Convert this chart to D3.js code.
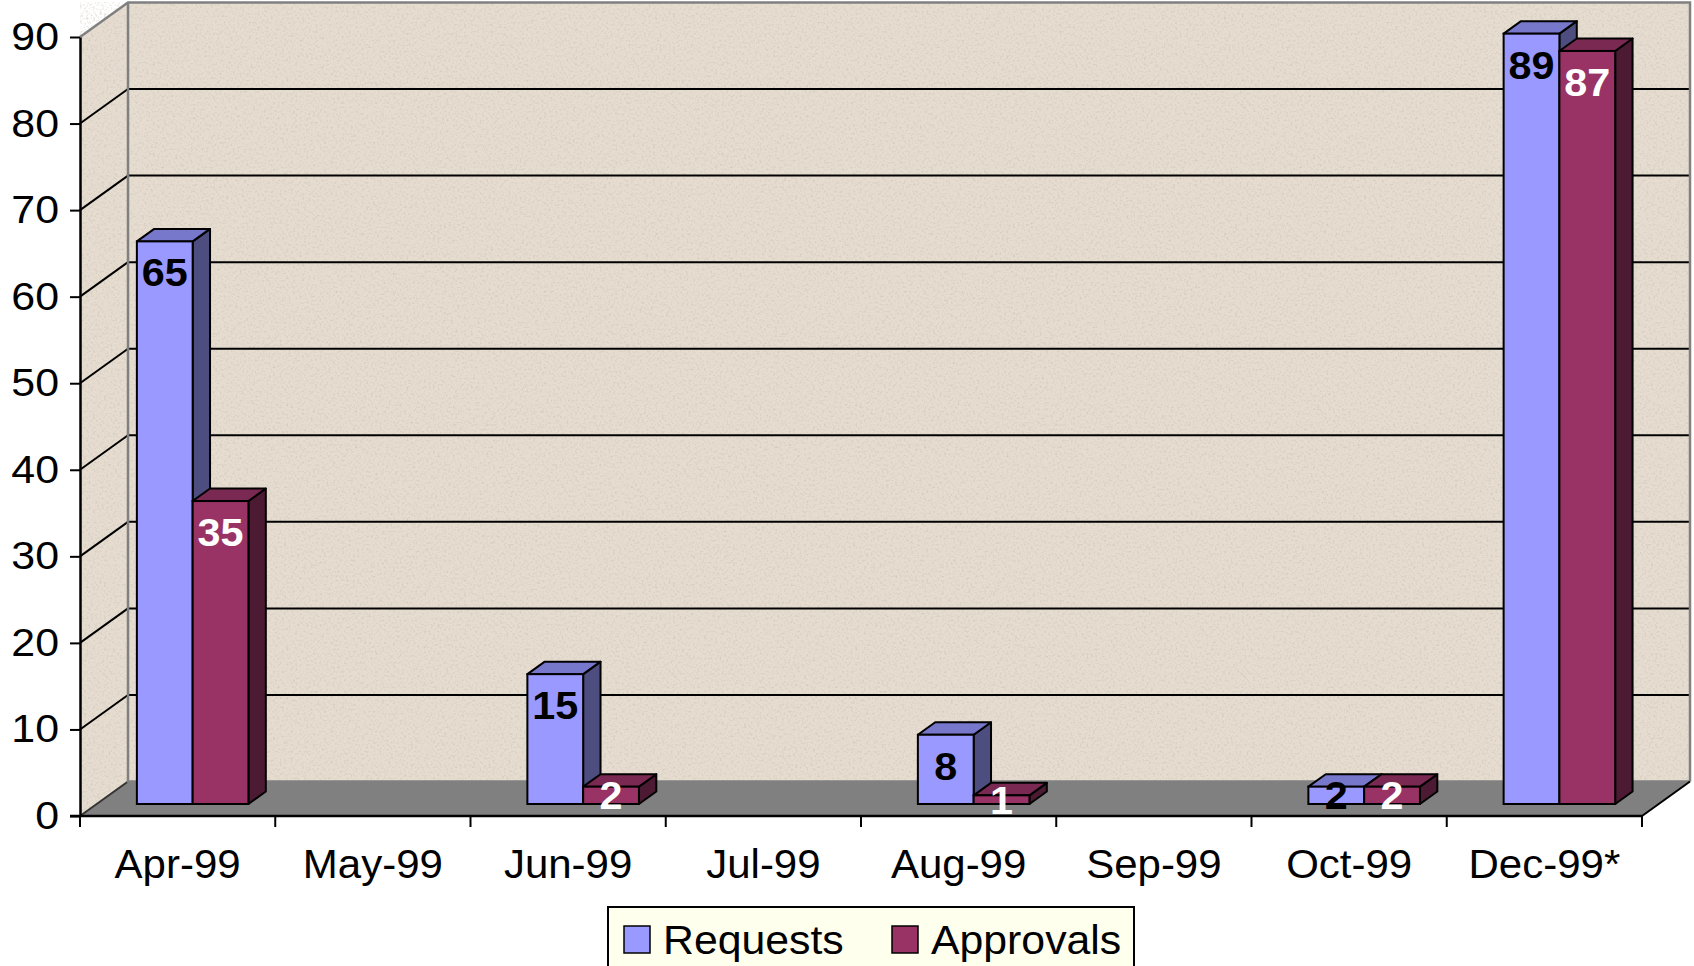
<!DOCTYPE html>
<html>
<head>
<meta charset="utf-8">
<script src="https://cdn.jsdelivr.net/npm/d3@7"></script>
<style>
  body { margin: 0; background: #fff; }
  svg { display: block; }
</style>
</head>
<body>
<div id="chart_div"></div>
<script>
var months = ['Apr-99', 'May-99', 'Jun-99', 'Jul-99', 'Aug-99', 'Sep-99', 'Oct-99', 'Dec-99*'];
var series = ['Requests', 'Approvals'];
var requests = [65, null, 15, null, 8, null, 2, 89];
var approvals = [35, null, 2, null, 1, null, 2, 87];
var y_ticks = [0, 10, 20, 30, 40, 50, 60, 70, 80, 90];

var width = 1694, height = 966;
var plot = { left: 80, right: 1642, top: 37, bottom: 816 };
var depth = { x: 48, y: -34.5 };     // offset from front plane to back wall
var bar_front = 0.348, bar_back = 0.71; // bar position inside the depth
var font = '"Liberation Sans", Arial, sans-serif';

var colors = {
    Requests:  { front: '#9999ff', top: '#7777cc', side: '#4d4d80', label: '#000' },
    Approvals: { front: '#993366', top: '#7a2952', side: '#4d1a33', label: '#fff' }
};

var svg = d3.select('#chart_div')
    .append('svg')
    .attr('width', width)
    .attr('height', height);

// speckled wall texture
var defs = svg.append('defs');
var filter = defs.append('filter').attr('id', 'speck')
    .attr('x', 0).attr('y', 0).attr('width', 1).attr('height', 1);
filter.append('feTurbulence')
    .attr('type', 'fractalNoise')
    .attr('baseFrequency', 0.45)
    .attr('numOctaves', 3)
    .attr('seed', 7);
filter.append('feColorMatrix')
    .attr('type', 'matrix')
    .attr('values', '0 0 0 0 0.55  0 0 0 0 0.5  0 0 0 0 0.44  2.2 0 0 0 -1.05');

var x = d3.scaleBand().domain(months).range([plot.left, plot.right]).padding(0);
var y = d3.scaleLinear().domain([0, 90]).range([plot.bottom, plot.top]);
var bw = x.bandwidth() / 3.5;   // gap width 150%

function pts(a) { return a.map(function(p) { return p.join(','); }).join(' '); }
// text in the original is a bit wider than Liberation Sans
function stretched(sel, sx) {
    sel.attr('transform', function() {
        var t = d3.select(this);
        var tx = +t.attr('x') || 0, ty = +t.attr('y') || 0;
        t.attr('x', 0).attr('y', 0);
        return 'translate(' + tx + ',' + ty + ') scale(' + sx + ',1)';
    });
}

var wall_left = plot.left + depth.x, wall_right = plot.right + depth.x;
var wall_top = y(90) + depth.y, wall_bottom = y(0) + depth.y;

// back wall
svg.append('rect')
    .attr('x', wall_left).attr('y', wall_top)
    .attr('width', wall_right - wall_left).attr('height', wall_bottom - wall_top)
    .attr('fill', '#e6ddd0');
svg.append('rect')
    .attr('x', wall_left).attr('y', wall_top)
    .attr('width', wall_right - wall_left).attr('height', wall_bottom - wall_top)
    .attr('filter', 'url(#speck)')
    .attr('opacity', 0.6);

// side wall
var side_wall = [[plot.left, y(0)], [plot.left, y(90)], [wall_left, wall_top], [wall_left, wall_bottom]];
svg.append('polygon').attr('points', pts(side_wall)).attr('fill', '#e6ddd0');
svg.append('polygon').attr('points', pts(side_wall))
    .attr('filter', 'url(#speck)').attr('opacity', 0.6);

// floor
svg.append('polygon')
    .attr('points', pts([[plot.left, y(0)], [plot.right, y(0)], [wall_right, wall_bottom], [wall_left, wall_bottom]]))
    .attr('fill', '#808080');

// gridlines on back wall and side wall
var grid = svg.append('g');
y_ticks.filter(function(t) { return t > 0 && t < 90; }).forEach(function(t) {
    grid.append('line')
        .attr('x1', wall_left).attr('x2', wall_right)
        .attr('y1', y(t) + depth.y).attr('y2', y(t) + depth.y)
        .attr('stroke', '#000').attr('stroke-width', 2);
});
y_ticks.filter(function(t) { return t < 90; }).forEach(function(t) {
    grid.append('line')
        .attr('x1', plot.left).attr('y1', y(t))
        .attr('x2', wall_left).attr('y2', y(t) + depth.y)
        .attr('stroke', t === 0 ? '#333' : '#000').attr('stroke-width', 2);
});

// wall borders (gray)
svg.append('path')
    .attr('d', 'M' + plot.left + ',' + y(90) + 'L' + wall_left + ',' + wall_top +
        'L' + wall_right + ',' + wall_top + 'L' + wall_right + ',' + wall_bottom +
        'M' + wall_left + ',' + wall_top + 'L' + wall_left + ',' + wall_bottom +
        'L' + wall_right + ',' + wall_bottom)
    .attr('fill', 'none').attr('stroke', '#808080').attr('stroke-width', 2.5);

// floor right edge
svg.append('line')
    .attr('x1', plot.right).attr('y1', y(0))
    .attr('x2', wall_right).attr('y2', wall_bottom)
    .attr('stroke', '#000').attr('stroke-width', 2);

// bars
var bar_data = [];
months.forEach(function(m, i) {
    [requests[i], approvals[i]].forEach(function(v, j) {
        if (v === null) return;
        bar_data.push({ month: m, series: series[j], value: v, j: j });
    });
});

var ox = bar_front * depth.x, oy = bar_front * depth.y;
var ddx = (bar_back - bar_front) * depth.x, ddy = (bar_back - bar_front) * depth.y;

var bars = svg.append('g').selectAll('g').data(bar_data).enter().append('g');

bars.each(function(d) {
    var g = d3.select(this);
    var x0 = x(d.month) + 0.72 * bw + d.j * bw + ox;
    var x1 = x0 + bw;
    var yt = y(d.value) + oy, yb = y(0) + oy;
    var c = colors[d.series];
    g.append('polygon')
        .attr('points', pts([[x1, yb], [x1 + ddx, yb + ddy], [x1 + ddx, yt + ddy], [x1, yt]]))
        .attr('fill', c.side).attr('stroke', '#000').attr('stroke-width', 2).attr('stroke-linejoin', 'round');
    g.append('polygon')
        .attr('points', pts([[x0, yt], [x1, yt], [x1 + ddx, yt + ddy], [x0 + ddx, yt + ddy]]))
        .attr('fill', c.top).attr('stroke', '#000').attr('stroke-width', 2).attr('stroke-linejoin', 'round');
    g.append('rect')
        .attr('x', x0).attr('y', yt).attr('width', bw).attr('height', yb - yt)
        .attr('fill', c.front).attr('stroke', '#000').attr('stroke-width', 2);
    d.cx = (x0 + x1) / 2;
    d.cy = Math.min(yt + 31, (yt + yb) / 2);
});

// value labels
bars.append('text')
    .attr('x', function(d) { return d.cx; })
    .attr('y', function(d) { return d.cy; })
    .attr('dy', '0.36em')
    .attr('text-anchor', 'middle')
    .style('font-family', font)
    .style('font-weight', 'bold')
    .style('font-size', '39px')
    .style('fill', function(d) { return colors[d.series].label; })
    .text(function(d) { return d.value; })
    .call(stretched, 1.06);

// y axis
var y_axis = svg.append('g')
    .attr('transform', 'translate(' + plot.left + ',0)')
    .call(d3.axisLeft(y).tickValues(y_ticks).tickSize(10).tickSizeOuter(0).tickPadding(10));
y_axis.select('.domain').attr('stroke', '#000').attr('stroke-width', 2.5);
y_axis.selectAll('.tick line').attr('stroke', '#000').attr('stroke-width', 2);
y_axis.selectAll('text')
    .style('font-family', font)
    .style('font-size', '39px')
    .attr('fill', '#000')
    .attr('x', -21)
    .call(stretched, 1.1);

// x axis
svg.append('line')
    .attr('x1', plot.left - 10).attr('x2', plot.right)
    .attr('y1', y(0)).attr('y2', y(0))
    .attr('stroke', '#000').attr('stroke-width', 2.5);
var bounds = months.map(function(m) { return x(m); }).concat([plot.right]);
svg.append('g').selectAll('line').data(bounds).enter().append('line')
    .attr('x1', function(d) { return d; }).attr('x2', function(d) { return d; })
    .attr('y1', y(0)).attr('y2', y(0) + 11)
    .attr('stroke', '#000').attr('stroke-width', 2);
svg.append('g').selectAll('text').data(months).enter().append('text')
    .attr('x', function(d) { return x(d) + x.bandwidth() / 2; })
    .attr('y', 878)
    .attr('text-anchor', 'middle')
    .style('font-family', font)
    .style('font-size', '40px')
    .text(function(d) { return d; })
    .call(stretched, 1.05);

// legend
var legend = svg.append('g').attr('transform', 'translate(608,907)');
legend.append('rect')
    .attr('x', 0).attr('y', 0).attr('width', 526).attr('height', 70)
    .attr('fill', '#ffffee').attr('stroke', '#000').attr('stroke-width', 2);
var legend_x = [16, 284];
series.forEach(function(s, i) {
    legend.append('rect')
        .attr('x', legend_x[i]).attr('y', 19).attr('width', 26).attr('height', 27)
        .attr('fill', colors[s].front).attr('stroke', '#000').attr('stroke-width', 1.5);
    legend.append('text')
        .attr('x', legend_x[i] + 39).attr('y', 47)
        .style('font-family', font)
        .style('font-size', '40px')
        .text(s)
        .call(stretched, 1.07);
});
</script>
</body>
</html>
